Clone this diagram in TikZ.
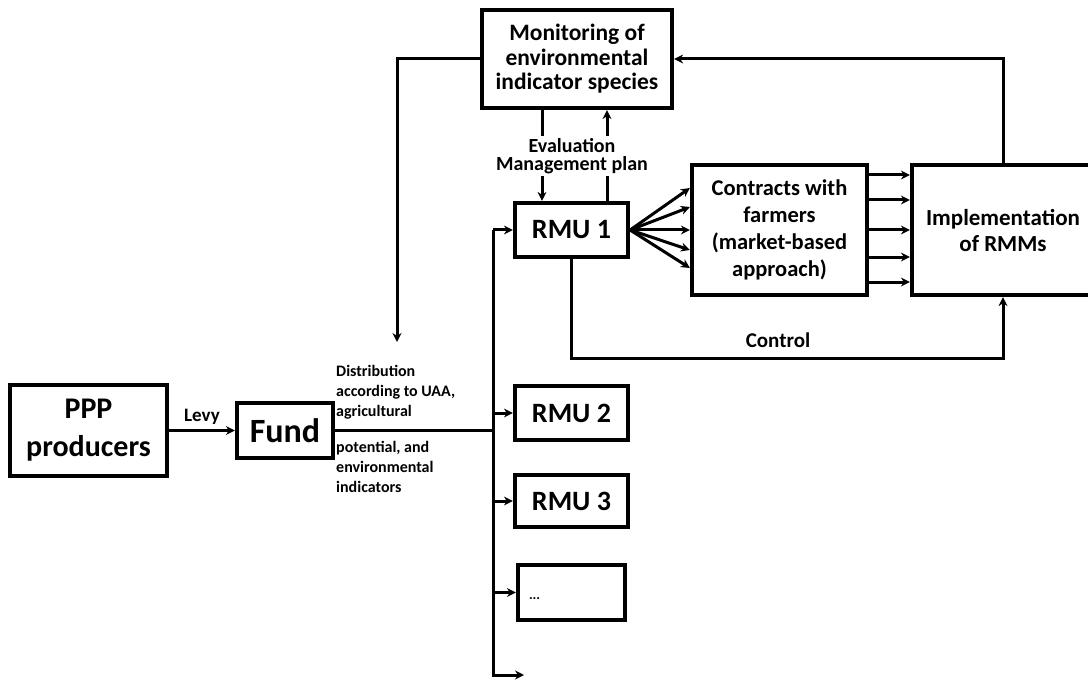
\documentclass[tikz,border=0pt]{standalone}
\usepackage{fontspec}
\setmainfont{Carlito}
\usetikzlibrary{arrows.meta}

\tikzset{
  box/.style={draw, line width=4.2pt, align=center, inner sep=2pt, font=\bfseries},
  conn/.style={line width=3pt},
  arr/.style={conn, -{Stealth[length=9pt,width=9pt]}},
  lbl/.style={font=\bfseries, align=center, inner sep=0pt},
}

\begin{document}
\begin{tikzpicture}[x=1pt, y=-1pt]
\useasboundingbox (0,0) rectangle (1088,682);
\clip (0,0) rectangle (1088,682);

% main blocks
\node[box, minimum width=190pt, minimum height=98pt,
      font=\bfseries\fontsize{23.5}{24.5}\selectfont] (mon) at (577,59)
      {Monitoring of\\environmental\\indicator species};
\node[box, minimum width=113pt, minimum height=54pt,
      font=\bfseries\fontsize{28}{32}\selectfont] (rmu1) at (571.5,230) {RMU 1};
\node[box, minimum width=175pt, minimum height=130pt,
      font=\bfseries\fontsize{22.5}{27}\selectfont] (contr) at (779.5,230)
      {Contracts with\\farmers\\(market-based\\approach)};
\node[box, minimum width=182pt, minimum height=130pt,
      font=\bfseries\fontsize{23}{26}\selectfont] (impl) at (1003,230)
      {Implementation\\of RMMs};
\node[box, minimum width=157pt, minimum height=91pt,
      font=\bfseries\fontsize{30}{38}\selectfont] (ppp) at (88.5,430.5)
      {PPP\\producers};
\node[box, minimum width=96pt, minimum height=55pt,
      font=\bfseries\fontsize{34}{36}\selectfont] (fund) at (285,430.5) {Fund};
\node[box, minimum width=113pt, minimum height=54pt,
      font=\bfseries\fontsize{28}{32}\selectfont] (rmu2) at (571.5,413) {RMU 2};
\node[box, minimum width=113pt, minimum height=52pt,
      font=\bfseries\fontsize{28}{32}\selectfont] (rmu3) at (571.5,501) {RMU 3};
\node[box, minimum width=107pt, minimum height=55pt, text width=85pt,
      align=left, inner xsep=10pt,
      font=\bfseries\fontsize{14}{16}\selectfont] (rmud) at (571.5,592.5)
      {\raisebox{-14pt}{...}};

% distribution bus
\coordinate (bustop) at (493,230);
\coordinate (busbot) at (493,675);
\coordinate (busend) at (524,675);
\coordinate (busmid) at (493,430.5);
\draw[conn, line width=2.5pt] (fund.east) -- (busmid);
\draw[arr] (bustop) -- (busbot) -- (busend);
\draw[arr] (bustop) -- (rmu1.west);
\draw[arr] (rmu2.west -| bustop) -- (rmu2.west);
\draw[arr] (rmu3.west -| bustop) -- (rmu3.west);
\draw[arr] (rmud.west -| bustop) -- (rmud.west);

\node[lbl, anchor=west, align=left, font=\bfseries\fontsize{16}{20}\selectfont]
  (distA) at (336,392) {Distribution\\according to UAA,\\agricultural};
\node[lbl, anchor=west, align=left, font=\bfseries\fontsize{16}{20}\selectfont]
  (distB) at (336,467) {potential, and\\environmental\\indicators};

% levy
\draw[arr] (ppp.east |- fund.west) -- (fund.west)
  node[lbl, midway, above=5pt, font=\bfseries\fontsize{19}{22}\selectfont] {Levy};

% RMU 1 to contracts
\foreach \s in {42,23,0,-20,-38}
  \draw[arr] (rmu1.east) -- ([yshift=\s pt]contr.west);

% contracts to implementation
\foreach \s in {55,30,0,-27,-52}
  \draw[arr] ([yshift=\s pt]contr.east) -- ([yshift=\s pt]contr.east -| impl.west);

% monitoring and RMU 1
\draw[arr] ([xshift=-35pt]mon.south) -- ([xshift=-35pt]mon.south |- rmu1.north);
\draw[arr] ([xshift=30pt]mon.south |- rmu1.north) -- ([xshift=30pt]mon.south);
\node[lbl, fill=white, inner sep=2pt, font=\bfseries\fontsize{20}{18}\selectfont]
  (evl) at (572,156) {Evaluation\\Management plan};

% feedback from implementation to monitoring
\draw[arr] (impl.north) -- (impl.north |- mon.east) -- (mon.east);

% monitoring to distribution
\coordinate (distin) at (397,342);
\draw[arr] (mon.west) -| (distin);

% control loop
\coordinate (ctly) at (0,358);
\draw[arr] (rmu1.south) -- (rmu1.south |- ctly) -- (impl.south |- ctly) -- (impl.south);
\node[lbl, font=\bfseries\fontsize{21}{24}\selectfont] (ctl) at (778,340) {Control};

\end{tikzpicture}
\end{document}
